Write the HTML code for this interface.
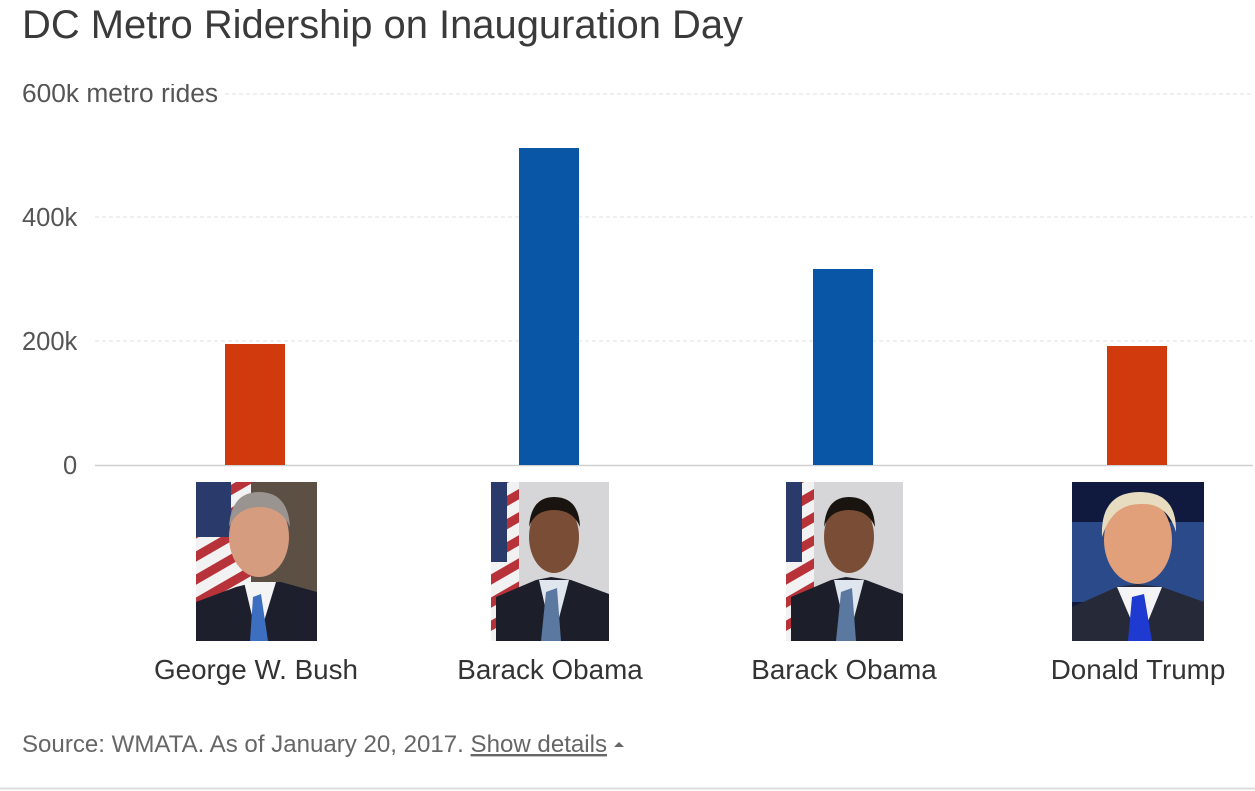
<!DOCTYPE html>
<html><head><meta charset="utf-8"><style>
html,body{margin:0;padding:0;background:#fff;}
svg{display:block;font-family:"Liberation Sans",Arial,sans-serif;}
</style></head><body>
<svg width="1255" height="791" viewBox="0 0 1255 791" xmlns="http://www.w3.org/2000/svg">
<defs>
<clipPath id="cl"><rect x="0" y="84" width="1255" height="40"/></clipPath>
<pattern id="flag" width="20" height="20" patternUnits="userSpaceOnUse" patternTransform="rotate(-30)">
<rect width="20" height="20" fill="#f2f2f2"/><rect width="20" height="9" fill="#b8323a"/></pattern>
</defs>
<text x="22" y="38" font-size="40" fill="#3a3a3a" textLength="721" lengthAdjust="spacingAndGlyphs">DC Metro Ridership on Inauguration Day</text>
<g stroke="#e2e2e2" stroke-width="1" stroke-dasharray="4,3">
<line x1="225" y1="94" x2="1253" y2="94"/>
<line x1="95" y1="217" x2="1253" y2="217"/>
<line x1="95" y1="341" x2="1253" y2="341"/>
</g>
<line x1="95" y1="465.5" x2="1253" y2="465.5" stroke="#d0d0d0" stroke-width="1.5"/>
<g font-size="25.5" fill="#555">
<text x="22" y="102" clip-path="url(#cl)" textLength="196" lengthAdjust="spacingAndGlyphs">600k  metro rides</text>
<text x="22" y="226">400k</text>
<text x="22" y="350">200k</text>
<text x="63" y="474">0</text>
</g>
<rect x="225" y="344" width="60" height="121" fill="#d13a0c"/>
<rect x="519" y="148" width="60" height="317" fill="#0a56a6"/>
<rect x="813" y="269" width="60" height="196" fill="#0a56a6"/>
<rect x="1107" y="346" width="60" height="119" fill="#d13a0c"/>

<!-- Bush -->
<g transform="translate(196,482)">
<rect width="121" height="159" fill="#5c5045"/>
<rect width="55" height="120" fill="url(#flag)"/>
<rect width="35" height="55" fill="#2a3a6a"/>
<path d="M0 159 L0 120 L40 105 L60 100 L85 100 L121 110 L121 159Z" fill="#1d1f2c"/>
<path d="M48 100 L62 159 L80 100Z" fill="#f4f4f4"/>
<path d="M57 115 L65 112 L72 159 L54 159Z" fill="#3d6fc0"/>
<ellipse cx="63" cy="55" rx="30" ry="40" fill="#d69c80"/>
<path d="M33 45 Q35 10 63 10 Q92 10 94 45 Q85 25 63 25 Q42 25 33 45Z" fill="#9a9490"/>
</g>
<!-- Obama 1 -->
<g transform="translate(491,482)">
<rect width="118" height="159" fill="#d6d6d8"/>
<rect width="28" height="159" fill="url(#flag)"/>
<rect width="16" height="80" fill="#2a3a6a"/>
<path d="M5 159 L5 115 L45 98 L60 95 L80 98 L118 112 L118 159Z" fill="#1c1f2a"/>
<path d="M48 98 L62 159 L78 98Z" fill="#dfe6ee"/>
<path d="M55 110 L66 106 L70 159 L50 159Z" fill="#5a78a0"/>
<ellipse cx="63" cy="55" rx="25" ry="36" fill="#7a4e36"/>
<path d="M38 45 Q40 15 63 15 Q88 15 89 45 Q82 28 63 28 Q44 28 38 45Z" fill="#1a1410"/>
</g>
<!-- Obama 2 -->
<g transform="translate(786,482)">
<rect width="117" height="159" fill="#d6d6d8"/>
<rect width="28" height="159" fill="url(#flag)"/>
<rect width="16" height="80" fill="#2a3a6a"/>
<path d="M5 159 L5 115 L45 98 L60 95 L80 98 L117 112 L117 159Z" fill="#1c1f2a"/>
<path d="M48 98 L62 159 L78 98Z" fill="#dfe6ee"/>
<path d="M55 110 L66 106 L70 159 L50 159Z" fill="#5a78a0"/>
<ellipse cx="63" cy="55" rx="25" ry="36" fill="#7a4e36"/>
<path d="M38 45 Q40 15 63 15 Q88 15 89 45 Q82 28 63 28 Q44 28 38 45Z" fill="#1a1410"/>
</g>
<!-- Trump -->
<g transform="translate(1072,482)">
<rect width="132" height="159" fill="#0f1a3e"/>
<rect y="40" width="132" height="80" fill="#2a4a8a"/>
<path d="M0 159 L0 125 L45 105 L65 102 L90 105 L132 120 L132 159Z" fill="#262a38"/>
<path d="M45 105 L68 159 L90 105Z" fill="#f4f4f6"/>
<path d="M60 115 L72 112 L80 159 L56 159Z" fill="#1e3ad0"/>
<ellipse cx="66" cy="58" rx="34" ry="44" fill="#e2a07a"/>
<path d="M30 55 Q28 10 68 10 Q105 10 104 50 Q95 20 68 22 Q40 22 30 55Z" fill="#e8dcc0"/>
</g>

<g font-size="27.8" fill="#333" text-anchor="middle">
<text x="256" y="679">George W. Bush</text>
<text x="550" y="679">Barack Obama</text>
<text x="844" y="679">Barack Obama</text>
<text x="1138" y="679">Donald Trump</text>
</g>
<text x="22" y="752" font-size="24" fill="#666" textLength="585" lengthAdjust="spacingAndGlyphs">Source: WMATA. As of January 20, 2017. <tspan text-decoration="underline">Show details</tspan></text>
<path d="M614 747 L619 742 L624 747Z" fill="#666"/>
<line x1="0" y1="788.5" x2="1255" y2="788.5" stroke="#ddd" stroke-width="2"/>
</svg>
</body></html>
